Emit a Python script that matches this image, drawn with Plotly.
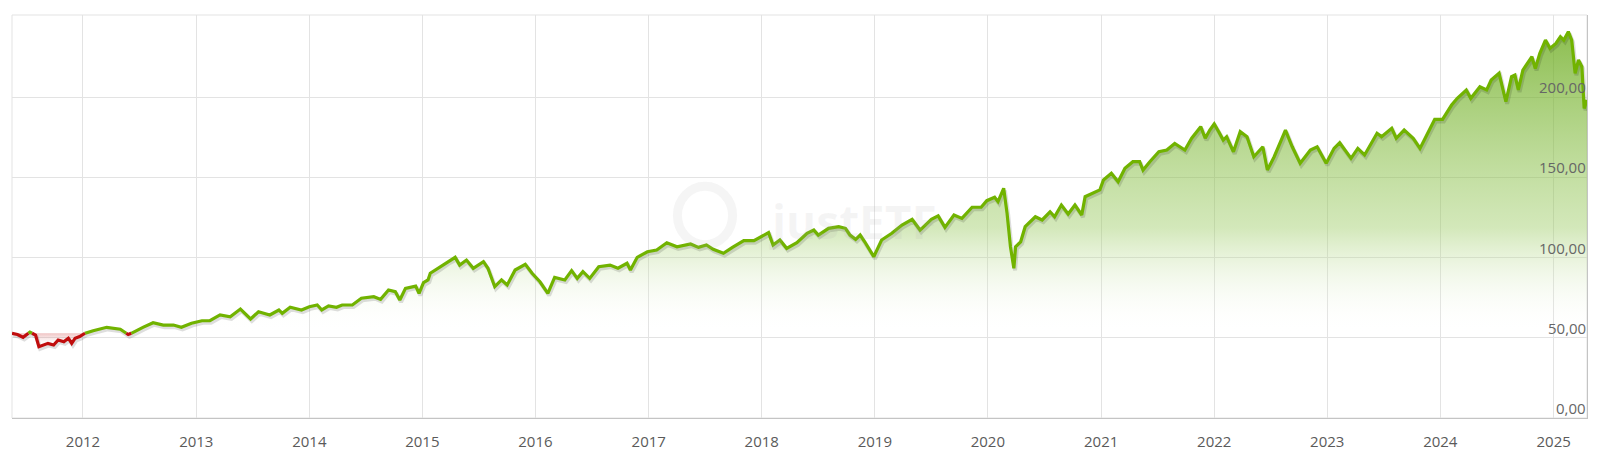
import datetime as dt
import plotly.graph_objects as go

# ---- data (decimal year, value) ----
years = [
    2011.372, 2011.42, 2011.47, 2011.53, 2011.58, 2011.61, 2011.65, 2011.69, 2011.74, 2011.78,
    2011.83, 2011.87, 2011.90, 2011.93, 2011.97, 2012.02, 2012.09, 2012.21, 2012.33, 2012.40,
    2012.44, 2012.53, 2012.62, 2012.71, 2012.80, 2012.87, 2012.96, 2013.05, 2013.12, 2013.21,
    2013.30, 2013.39, 2013.48, 2013.55, 2013.65, 2013.73, 2013.76, 2013.83, 2013.93, 2014.00,
    2014.07, 2014.11, 2014.17, 2014.24, 2014.29, 2014.38, 2014.46, 2014.57, 2014.63, 2014.70,
    2014.76, 2014.80, 2014.85, 2014.94, 2014.97, 2015.01, 2015.05, 2015.07, 2015.14, 2015.22,
    2015.29, 2015.33, 2015.39, 2015.45, 2015.54, 2015.58, 2015.64, 2015.70, 2015.75, 2015.82,
    2015.91, 2015.97, 2016.04, 2016.11, 2016.17, 2016.26, 2016.32, 2016.37, 2016.42, 2016.48,
    2016.56, 2016.66, 2016.73, 2016.81, 2016.84, 2016.90, 2016.99, 2017.07, 2017.16, 2017.25,
    2017.37, 2017.44, 2017.51, 2017.57, 2017.66, 2017.74, 2017.84, 2017.93, 2017.99, 2018.06,
    2018.10, 2018.16, 2018.22, 2018.31, 2018.40, 2018.46, 2018.50, 2018.59, 2018.68, 2018.74,
    2018.78, 2018.83, 2018.87, 2018.91, 2018.99, 2019.06, 2019.15, 2019.24, 2019.33, 2019.40,
    2019.50, 2019.56, 2019.62, 2019.70, 2019.77, 2019.86, 2019.94, 2019.99, 2020.06, 2020.09,
    2020.14, 2020.17, 2020.20, 2020.23, 2020.245, 2020.29, 2020.33, 2020.42, 2020.48, 2020.55,
    2020.59, 2020.65, 2020.71, 2020.77, 2020.83, 2020.86, 2020.99, 2021.02, 2021.09, 2021.15,
    2021.21, 2021.28, 2021.34, 2021.37, 2021.43, 2021.51, 2021.58, 2021.65, 2021.74, 2021.80,
    2021.88, 2021.92, 2021.96, 2022.00, 2022.04, 2022.08, 2022.11, 2022.17, 2022.23, 2022.29,
    2022.35, 2022.43, 2022.47, 2022.53, 2022.63, 2022.69, 2022.76, 2022.85, 2022.91, 2022.99,
    2023.06, 2023.11, 2023.21, 2023.27, 2023.33, 2023.38, 2023.44, 2023.48, 2023.57, 2023.61,
    2023.68, 2023.76, 2023.82, 2023.88, 2023.95, 2024.02, 2024.10, 2024.15, 2024.23, 2024.27,
    2024.35, 2024.41, 2024.45, 2024.52, 2024.58, 2024.63, 2024.66, 2024.69, 2024.73, 2024.81,
    2024.84, 2024.88, 2024.93, 2024.97, 2025.02, 2025.06, 2025.09, 2025.13, 2025.16, 2025.19,
    2025.22, 2025.25, 2025.27, 2025.295,
]
values = [
    52.8, 52.0, 50.3, 53.5, 51.7, 44.4, 45.5, 46.5, 45.5, 48.6,
    47.5, 49.7, 46.5, 49.7, 50.7, 52.9, 54.4, 56.5, 55.3, 52.0,
    53.2, 56.5, 59.4, 57.9, 57.9, 56.5, 59.0, 60.6, 60.6, 64.2,
    63.1, 67.9, 61.7, 66.2, 64.2, 67.3, 65.2, 69.0, 67.3, 69.3,
    70.4, 67.3, 69.8, 69.0, 70.4, 70.4, 74.6, 75.6, 73.9, 79.8,
    78.7, 73.5, 80.8, 82.2, 77.7, 84.3, 86.0, 90.2, 93.3, 97.4,
    100.1, 95.3, 98.4, 93.3, 97.4, 93.3, 81.8, 86.0, 82.9, 92.2,
    95.8, 90.2, 84.9, 77.7, 87.6, 86.0, 91.8, 87.0, 91.2, 87.0,
    94.3, 95.3, 93.3, 96.4, 92.2, 100.1, 103.6, 104.7, 109.2, 106.7,
    108.4, 106.3, 107.8, 105.1, 102.6, 106.3, 110.5, 110.5, 113.0, 115.5,
    107.8, 110.9, 105.7, 109.2, 115.1, 117.1, 114.0, 118.2, 119.2, 118.2,
    114.0, 111.3, 114.0, 109.8, 100.5, 110.9, 115.1, 120.2, 123.8, 117.1,
    123.8, 125.9, 118.8, 126.5, 124.4, 131.3, 131.3, 135.4, 137.5, 134.8,
    143.1, 127.5, 106.7, 93.3, 106.7, 109.8, 119.2, 125.4, 123.4, 128.5,
    125.4, 132.7, 127.1, 132.7, 126.5, 137.9, 142.1, 148.3, 152.5, 147.2,
    155.6, 159.7, 159.7, 154.5, 159.7, 165.9, 167.0, 171.1, 167.0, 174.3,
    181.5, 174.3, 179.4, 183.2, 178.4, 173.2, 175.3, 165.9, 178.4, 175.3,
    162.8, 169.0, 154.5, 162.8, 179.4, 169.0, 158.7, 167.0, 169.0, 158.7,
    168.0, 171.5, 161.8, 168.0, 163.9, 170.1, 177.4, 175.3, 180.5, 174.3,
    179.4, 174.3, 168.0, 176.3, 186.1, 186.1, 195.0, 199.2, 204.4, 199.2,
    206.4, 204.4, 210.6, 214.8, 197.1, 212.7, 213.7, 204.4, 216.8, 225.1,
    217.8, 227.2, 235.5, 230.3, 233.4, 237.6, 235.5, 240.7, 235.5, 214.8,
    223.1, 218.9, 192.9, 198.1,
]
y_ticks = [0, 50, 100, 150, 200]
y_labels = ["0,00", "50,00", "100,00", "150,00", "200,00"]
x_years = list(range(2012, 2026))

GREEN = "#71b300"
RED = "#c00d0d"


def to_date(y):
    yr = int(y)
    start = dt.datetime(yr, 1, 1)
    return start + dt.timedelta(days=(y - yr) * 365.25)


threshold = values[0]

# insert crossing points so colour switches exactly at the threshold
xs, vs = [years[0]], [values[0]]
for i in range(1, len(years)):
    x0, v0, x1, v1 = years[i - 1], values[i - 1], years[i], values[i]
    if (v0 - threshold) * (v1 - threshold) < 0:
        f = (threshold - v0) / (v1 - v0)
        xs.append(x0 + f * (x1 - x0))
        vs.append(threshold)
    xs.append(x1)
    vs.append(v1)

dates = [to_date(x) for x in xs]

green_x, green_y, red_x, red_y = [], [], [], []
for i in range(1, len(xs)):
    mid = (vs[i - 1] + vs[i]) / 2
    tx, ty = (green_x, green_y) if mid >= threshold else (red_x, red_y)
    if tx and tx[-1] == dates[i - 1]:
        tx.append(dates[i]); ty.append(vs[i])
    else:
        if tx:
            tx.append(None); ty.append(None)
        tx += [dates[i - 1], dates[i]]; ty += [vs[i - 1], vs[i]]

vmax = max(values)
fig = go.Figure()

# green area (above threshold)
fig.add_trace(go.Scatter(x=dates, y=[threshold] * len(dates), mode="lines",
                         line=dict(width=0), hoverinfo="skip", showlegend=False))
fig.add_trace(go.Scatter(
    x=dates, y=[max(v, threshold) for v in vs], mode="lines", line=dict(width=0),
    fill="tonexty",
    fillgradient=dict(type="vertical", start=threshold, stop=vmax,
                      colorscale=[[0, "rgba(255,255,255,0)"],
                                  [0.35, "rgba(150,200,90,0.42)"],
                                  [1, "rgba(102,168,22,0.75)"]]),
    hoverinfo="skip", showlegend=False))
# red area (below threshold)
fig.add_trace(go.Scatter(x=dates, y=[threshold] * len(dates), mode="lines",
                         line=dict(width=0), hoverinfo="skip", showlegend=False))
fig.add_trace(go.Scatter(
    x=dates, y=[min(v, threshold) for v in vs], mode="lines", line=dict(width=0),
    fill="tonexty",
    fillgradient=dict(type="vertical", start=min(values), stop=threshold,
                      colorscale=[[0, "rgba(255,255,255,0)"],
                                  [1, "rgba(200,40,40,0.28)"]]),
    hoverinfo="skip", showlegend=False))

# soft shadow under the line
shadow_dates = [d + dt.timedelta(days=4) for d in dates]
fig.add_trace(go.Scatter(x=shadow_dates, y=[v - 1.3 for v in vs], mode="lines",
                         line=dict(color="rgba(0,0,0,0.13)", width=4),
                         hoverinfo="skip", showlegend=False))

fig.add_trace(go.Scatter(x=green_x, y=green_y, mode="lines",
                         line=dict(color=GREEN, width=3.2), showlegend=False))
fig.add_trace(go.Scatter(x=red_x, y=red_y, mode="lines",
                         line=dict(color=RED, width=3.2), showlegend=False))

annotations = [
    dict(text="<b>justETF</b>", xref="paper", yref="paper", x=0.534, y=0.49,
         showarrow=False, font=dict(size=46, color="rgba(170,170,170,0.12)",
                                    family="Open Sans, sans-serif")),
]
for v, lab in zip(y_ticks, y_labels):
    annotations.append(dict(text=lab, xref="paper", yref="y", x=1, y=v,
                            xanchor="right", yanchor="bottom", showarrow=False,
                            xshift=1, yshift=-2,
                            font=dict(size=15, color="#666666",
                                      family="Open Sans, sans-serif")))

fig.update_layout(
    width=1600, height=467,
    margin=dict(l=12, r=13, t=15, b=49, autoexpand=False),
    paper_bgcolor="white", plot_bgcolor="white",
    font=dict(family="Open Sans, sans-serif", color="#666666"),
    xaxis=dict(
        type="date", range=[dates[0], dates[-1]],
        tickvals=[dt.datetime(y, 1, 1) for y in x_years],
        ticktext=[str(y) for y in x_years],
        showgrid=True, gridcolor="#e3e3e3", gridwidth=1,
        showline=True, linecolor="#c4c4c4", linewidth=1,
        ticks="outside", ticklen=10, tickcolor="rgba(0,0,0,0)",
        tickfont=dict(size=15, color="#5a5a5a"),
        zeroline=False, fixedrange=True,
    ),
    yaxis=dict(
        side="right", range=[0, 251.1], tickvals=y_ticks,
        showticklabels=False,
        showgrid=True, gridcolor="#e3e3e3", gridwidth=1,
        showline=True, linecolor="#c4c4c4", linewidth=1,
        zeroline=False, fixedrange=True,
    ),
    shapes=[
        dict(type="rect", xref="paper", yref="paper", x0=0, x1=1, y0=0, y1=1,
             line=dict(color="#e3e3e3", width=1), layer="below"),
        dict(type="circle", xref="paper", yref="paper",
             x0=0.4225, x1=0.4575, y0=0.43, y1=0.575,
             line=dict(color="rgba(170,170,170,0.12)", width=9), layer="above"),
    ],
    annotations=annotations,
)

fig.write_html("out.html", config={"displayModeBar": False},
               post_script="document.body.style.margin='0';")
